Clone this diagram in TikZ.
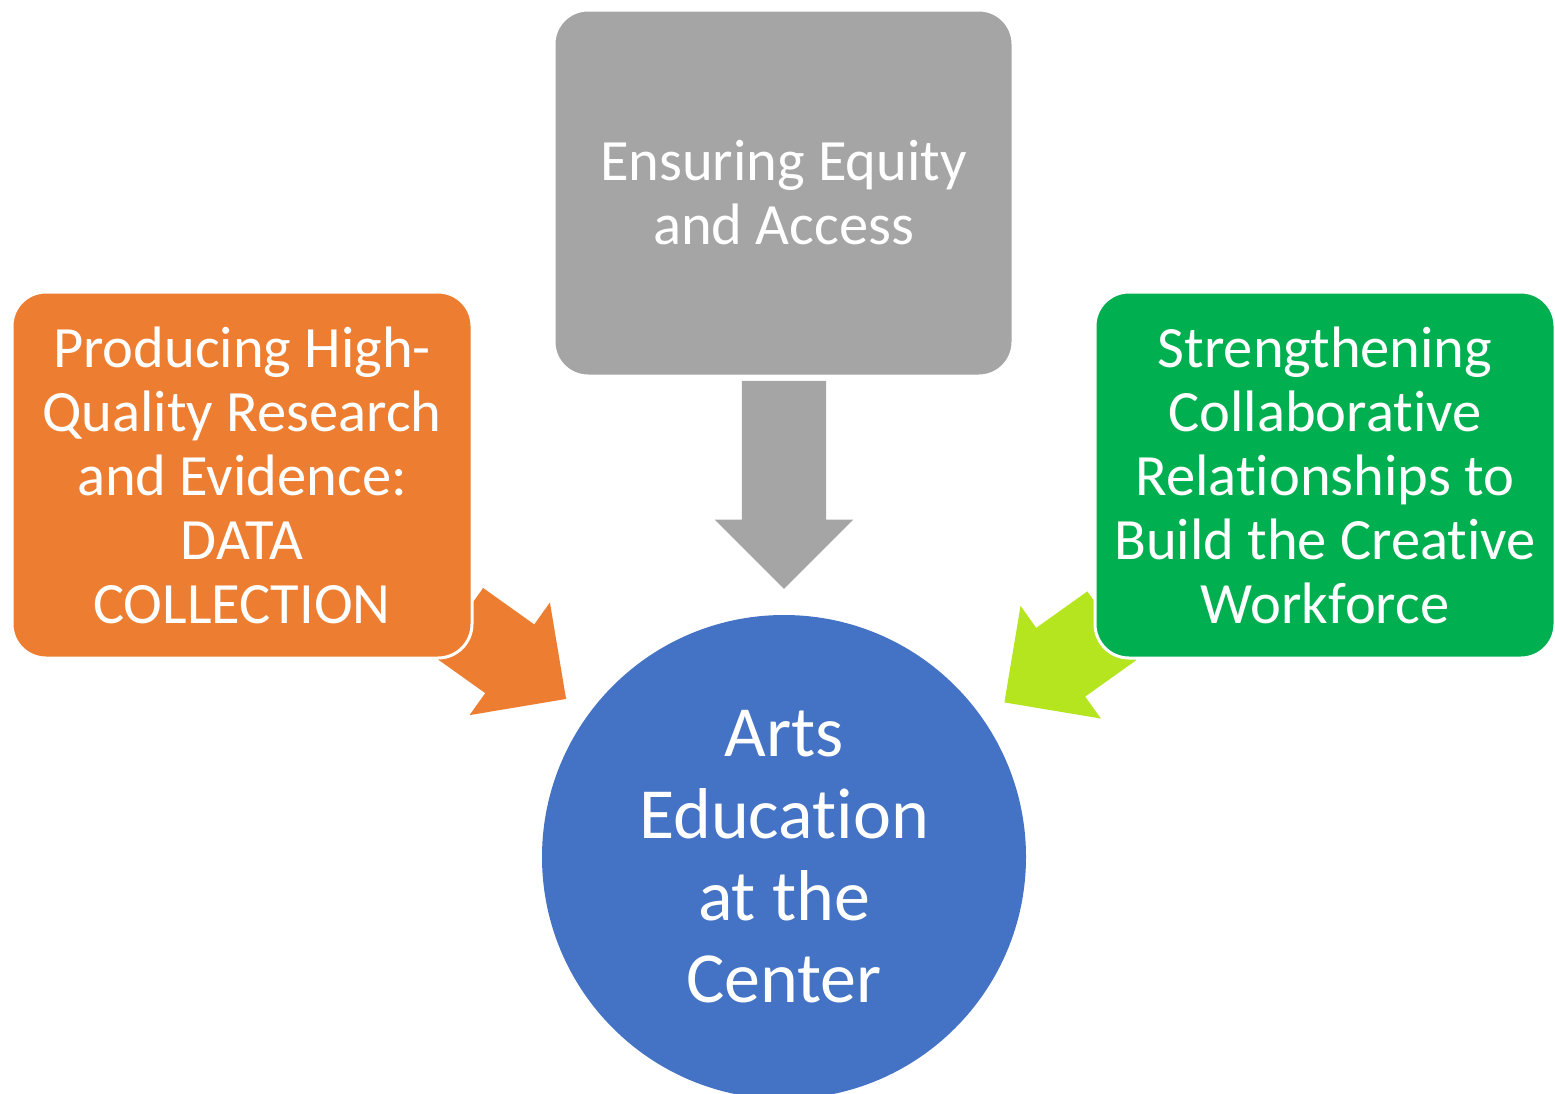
\documentclass[tikz,border=0pt]{standalone}
\usepackage{fontspec}
\setmainfont{Carlito}
\usetikzlibrary{positioning, shapes.arrows}
\definecolor{equitygray}{HTML}{A5A5A5}
\definecolor{researchorange}{HTML}{ED7D31}
\definecolor{workforcegreen}{HTML}{00B050}
\definecolor{hubblue}{HTML}{4472C4}
\definecolor{limearrow}{HTML}{B4E51E}
% keeps t and i apart (no ligature)
\newcommand{\tsep}{t\kern0pt}

\begin{document}
\begin{tikzpicture}[x=1pt, y=-1pt,
  goalbox/.style={rounded corners=34pt, draw=white, line width=3pt, minimum width=460pt, minimum height=366pt, inner sep=0pt, text=white, align=center, font=\fontsize{58.5}{64}\selectfont},
  blockarrow/.style={single arrow, single arrow head extend=27pt, single arrow tip angle=90, inner xsep=0pt, inner ysep=42pt, outer sep=0pt, anchor=tip}]
\useasboundingbox (0,0) rectangle (1555,1093);

\node[circle, fill=hubblue, minimum size=484pt, inner sep=0pt, text=white, align=center, font=\fontsize{72}{82}\selectfont] (hub) at (784,857) {Arts\\Educa\tsep ion\\at the\\Center};

% arrows first, the boxes lie over their tails
\node[blockarrow, fill=equitygray, minimum height=208pt, rotate=-90] (equityarrow) at ([yshift=26pt]hub.north) {};
\node[blockarrow, fill=researchorange, minimum height=132pt, rotate=-35.5] (researcharrow) at ([shift={(144.5:27pt)}]hub.144.5) {};
\node[blockarrow, fill=limearrow, minimum height=132pt, rotate=-144.5] (workforcearrow) at ([shift={(35.5:27pt)}]hub.35.5) {};

\node[goalbox, fill=equitygray, minimum width=459pt] (equity) at (783.5,193) {Ensuring Equity\\and Access};
\node[goalbox, fill=researchorange] (research) at (242,475) {Producing High-\\Quality Research\\and Evidence:\\DATA\\COLLECTION};
\node[goalbox, fill=workforcegreen] (workforce) at (1325,475) {Strengthening\\Collabora\tsep ive\\Rela\tsep ionships to\\Build the Crea\tsep ive\\Workforce};
\end{tikzpicture}
\end{document}
